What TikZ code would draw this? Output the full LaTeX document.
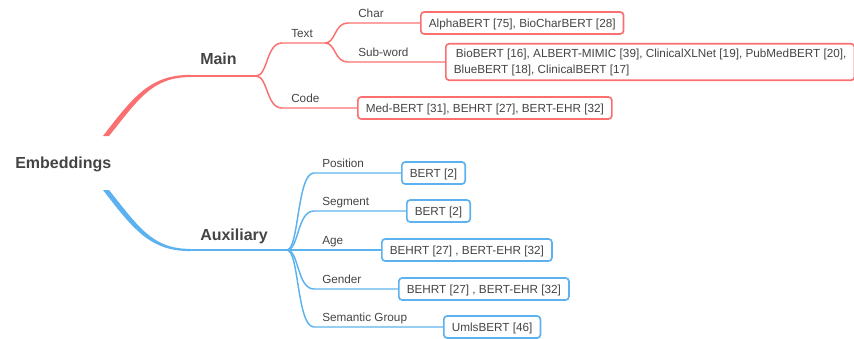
\documentclass[tikz,border=0pt]{standalone}
\usepackage{fontspec}
\setmainfont{Liberation Sans}
\definecolor{mainred}{RGB}{250,112,112}
\definecolor{auxblue}{RGB}{92,178,238}
\definecolor{ink}{RGB}{68,68,68}
\tikzset{topic/.style = {font=\fontsize{12}{14}\selectfont\bfseries, text=ink, anchor=base west, inner sep=0}}
\tikzset{tag/.style = {font=\fontsize{8.8}{10}\selectfont, text=ink, anchor=base west, inner sep=0}}
\tikzset{refbox/.style = {draw, rounded corners=2.5pt, line width=1.25pt, fill=white, font=\fontsize{8.8}{12}\selectfont, text=ink, anchor=west, inner xsep=6pt}}
\tikzset{ref/.style = {refbox, text height=6.4pt, text depth=0pt, minimum height=16.5pt}}
\tikzset{wire/.style = {line width=1.1pt}}

\begin{document}
\begin{tikzpicture}[x=0.75pt, y=-0.75pt]
      \useasboundingbox (0, 0) rectangle (854, 339);

      \node [topic] (root) at (15, 168) {Embeddings};
      \node [topic] (main) at (200, 64) {Main};
      \node [topic] (aux) at (200, 240) {Auxiliary};

      \coordinate (mainstart) at (190, 76);
      \coordinate (auxstart) at (190, 250);
      \coordinate (mainfork) at (256, 76);
      \coordinate (textfork) at (325, 43);
      \coordinate (auxfork) at (287, 250);

      \begin{scope}[mainred]
        \fill (103, 136) .. controls (133, 97) and (150, 74.9) .. (190, 74.9) -- (190, 77.1) .. controls (152, 77.1) and (138, 100) .. (109, 136) -- cycle;
        \draw [line width=1.5pt] (mainstart) -- (mainfork);

        \node [ref, draw=mainred] (charbox) at (420, 23) {AlphaBERT [75], BioCharBERT [28]};
        \node [refbox, draw=mainred, align=left, inner ysep=3.6pt] (subbox) at (445, 62) {\hspace{1.5pt}BioBERT [16], ALBERT-MIMIC [39], ClinicalXLNet [19], PubMedBERT [20],\\BlueBERT [18], ClinicalBERT [17]};
        \node [ref, draw=mainred] (codebox) at (357, 108) {Med-BERT [31], BEHRT [27], BERT-EHR [32]};

        \draw [wire] (mainfork) .. controls (268, 76) and (266, 43) .. (282, 43) -- (textfork);
        \draw [wire] (mainfork) .. controls (268, 76) and (266, 108) .. (282, 108) -- (codebox.west);
        \draw [wire] (textfork) .. controls (336, 43) and (334, 23) .. (348, 23) -- (charbox.west);
        \draw [wire] (textfork) .. controls (336, 43) and (334, 62) .. (348, 62) -- (subbox.west);
      \end{scope}

      \node [tag] (text) at (291, 37) {Text};
      \node [tag] (code) at (291, 102) {Code};
      \node [tag] (char) at (358, 17) {Char};
      \node [tag] (subword) at (358, 56) {Sub-word};

      \begin{scope}[auxblue]
        \fill (103, 190) .. controls (133, 229) and (150, 251.1) .. (190, 251.1) -- (190, 248.9) .. controls (152, 248.9) and (138, 226) .. (109, 190) -- cycle;
        \draw [line width=1.5pt] (auxstart) -- (auxfork);
      \end{scope}

      \foreach \name/\label/\y/\x/\refs in {pos/Position/173/401/{BERT [2]}, seg/Segment/211/406/{BERT [2]}, age/Age/250/381/{BEHRT [27] , BERT-EHR [32]}, gen/Gender/289/398/{BEHRT [27] , BERT-EHR [32]}, sem/Semantic Group/327/443/{UmlsBERT [46]}} {
        \node [tag] (\name) at (322, \y - 6) {\label};
        \node [ref, draw=auxblue] (box\name) at (\x, \y) {\refs};
        \draw [wire, auxblue] (auxfork) .. controls (299, 250) and (297, \y) .. (314, \y) -- (box\name.west);
      }
    \end{tikzpicture}
\end{document}
